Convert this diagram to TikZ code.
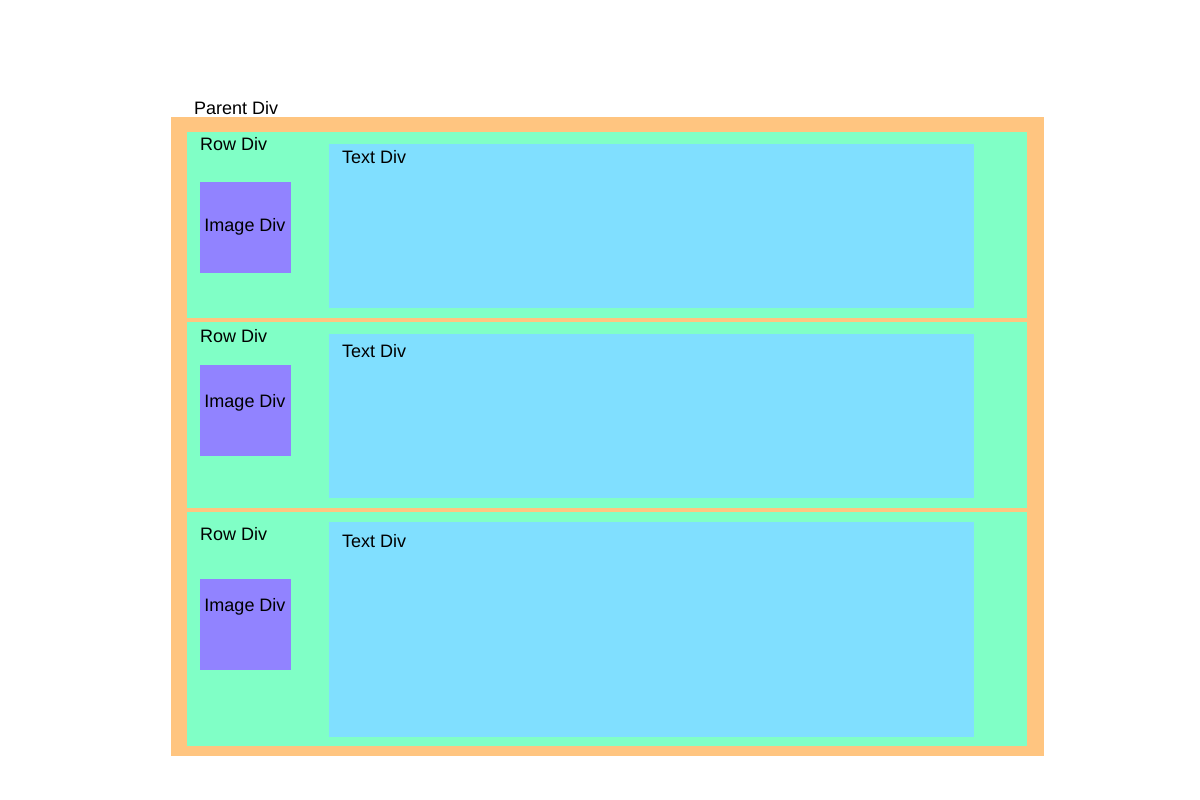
\documentclass[tikz,border=0pt]{standalone}
\usepackage{fontspec}
\setmainfont{Liberation Sans}
\definecolor{parentc}{HTML}{FFC580}
\definecolor{rowc}{HTML}{80FFC6}
\definecolor{textc}{HTML}{80DFFF}
\definecolor{imgc}{HTML}{9183FF}
\begin{document}
\begin{tikzpicture}[x=1pt,y=-1pt,
  box/.style={anchor=north west,inner sep=0pt,outer sep=0pt,draw=none},
  lbl/.style={anchor=base west,inner sep=0pt,font=\fontsize{18}{21}\selectfont},
  clbl/.style={anchor=base,inner sep=0pt,font=\fontsize{18}{21}\selectfont}]
\useasboundingbox (0,0) rectangle (1200,800);
\node[box,fill=parentc,minimum width=873pt,minimum height=639pt] (parent) at (171,117) {};
\node[lbl] (parentlbl) at (194,114) {Parent Div};
% rows
\node[box,fill=rowc,minimum width=840pt,minimum height=186pt] (row1) at (187,132) {};
\node[box,fill=rowc,minimum width=840pt,minimum height=186pt] (row2) at (187,322) {};
\node[box,fill=rowc,minimum width=840pt,minimum height=234pt] (row3) at (187,512) {};
\node[lbl] (row1lbl) at (200,150) {Row Div};
\node[lbl] (row2lbl) at (200,342) {Row Div};
\node[lbl] (row3lbl) at (200,540) {Row Div};
% text divs
\node[box,fill=textc,minimum width=645pt,minimum height=164pt] (text1) at (329,144) {};
\node[box,fill=textc,minimum width=645pt,minimum height=164pt] (text2) at (329,334) {};
\node[box,fill=textc,minimum width=645pt,minimum height=215pt] (text3) at (329,522) {};
\node[lbl] (text1lbl) at (342,163) {Text Div};
\node[lbl] (text2lbl) at (342,357) {Text Div};
\node[lbl] (text3lbl) at (342,547) {Text Div};
% image divs
\node[box,fill=imgc,minimum width=91pt,minimum height=91pt] (img1) at (200,182) {};
\node[box,fill=imgc,minimum width=91pt,minimum height=91pt] (img2) at (200,365) {};
\node[box,fill=imgc,minimum width=91pt,minimum height=91pt] (img3) at (200,579) {};
\node[clbl] (img1lbl) at (245,231) {Image Div};
\node[clbl] (img2lbl) at (245,407) {Image Div};
\node[clbl] (img3lbl) at (245,611) {Image Div};
\end{tikzpicture}
\end{document}
